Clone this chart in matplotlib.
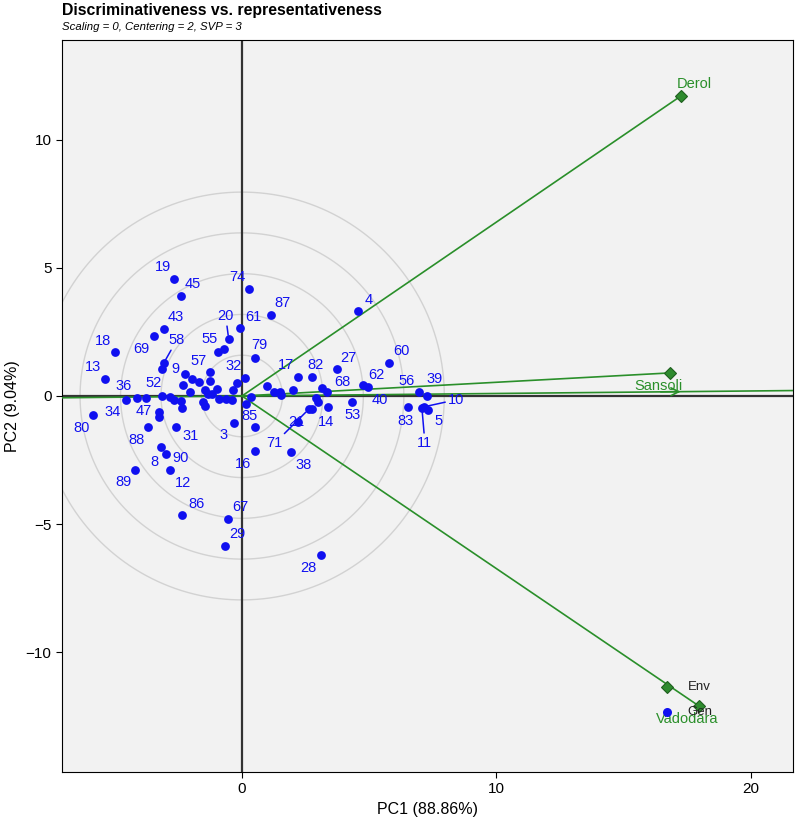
#!/usr/bin/env python3

from matplotlib import pyplot as plt
import numpy as np

# genotype scores (PC1, PC2); "" = point drawn without a label
gen_x = [-2.66, -2.40, 0.29, -3.08, -3.47, -5.00, -5.38, -3.08, -3.16, -0.93,
         -0.52, -0.08, 1.13, 0.52, -1.25, 0.13, -3.13, -4.13, -4.56, -5.84,
         -3.27, -3.68, -2.58, -0.30, 0.17, -3.19, -2.99, -4.19, -2.83, -2.36,
         -0.54, -0.68, 0.52, 4.56, 2.19, 2.76, 3.72, 3.34, 4.94, 4.77,
         4.31, 3.39, 2.21, 2.62, 1.91, 3.10, 5.78, 6.95, 7.26, 6.53,
         7.16, 7.30, 7.07,
         -0.71, -3.25, 3.13, 2.75, 2.91, 2.97, -1.95, -2.24, -1.68, -1.25,
         -2.32, -2.06, -1.44, -1.32, -1.17, -0.97, -1.53, -1.47, -0.89, -0.64,
         -0.40, -0.34, -0.18, 0.34, -2.41, -2.37, -3.78, -2.83, -2.67, 0.50,
         0.99, 1.26, 1.49, 1.52, 2.02]
gen_y = [4.56, 3.91, 4.18, 2.61, 2.33, 1.70, 0.67, 1.27, 1.06, 1.72,
         2.21, 2.64, 3.15, 1.48, 0.92, 0.71, -0.01, -0.09, -0.17, -0.74,
         -0.61, -1.21, -1.22, -1.06, -0.32, -1.98, -2.27, -2.88, -2.90, -4.65,
         -4.81, -5.84, -2.13, 3.31, 0.75, 0.73, 1.06, 0.17, 0.36, 0.43,
         -0.25, -0.43, -1.00, -0.52, -2.17, -6.19, 1.30, 0.14, 0.01, -0.44,
         -0.42, -0.55, -0.46,
         1.82, -0.81, 0.32, -0.52, -0.07, -0.22, 0.65, 0.85, 0.55, 0.60,
         0.42, 0.16, 0.22, 0.07, 0.07, 0.27, -0.23, -0.38, -0.12, -0.12,
         -0.16, 0.23, 0.50, -0.04, -0.19, -0.46, -0.09, -0.03, -0.16, -1.22,
         0.39, 0.14, 0.14, 0.04, 0.23]
gen_lab = ["19", "45", "74", "43", "69", "18", "13", "58", "9", "55",
           "20", "61", "87", "79", "57", "32", "52", "36", "34", "80",
           "47", "88", "31", "3", "85", "8", "90", "89", "12", "86",
           "67", "29", "16", "4", "17", "82", "27", "68", "62", "40",
           "53", "14", "21", "71", "38", "28", "60", "56", "39", "83",
           "10", "5", "11"] + [""] * 35

env_names = ["Derol", "Sansoli", "Vadodara"]
env_x = [17.25, 16.82, 17.96]
env_y = [11.70, 0.90, -12.09]

circle_radii = [1.59, 3.18, 4.77, 6.36, 7.95]

# label placement (pixels from the point)
label_offsets = {
    "19": (-11, 12), "45": (12, 12), "74": (-12, 12), "43": (12, 12),
    "69": (-12, -13), "18": (-12, 11), "13": (-12, 12), "58": (13, 23),
    "9": (14, 0), "55": (-9, 13), "20": (-3, 23), "61": (13, 11),
    "87": (12, 12), "79": (4, 13), "57": (-12, 11), "32": (-12, 12),
    "52": (-9, 13), "36": (-13, 12), "34": (-13, -12), "80": (-12, -13),
    "47": (-15, 1), "88": (-12, -13), "31": (14, -9), "3": (-11, -12),
    "85": (3, -12), "8": (-6, -15), "90": (15, -4), "89": (-12, -12),
    "12": (13, -13), "86": (15, 11), "67": (12, 12), "29": (13, 12),
    "16": (-12, -13), "4": (11, 11), "17": (-12, 12), "82": (3, 12),
    "27": (12, 11), "68": (15, 10), "62": (9, 12), "40": (16, -15),
    "53": (1, -13), "14": (-2, -15), "21": (-2, 0), "71": (-34, -34),
    "38": (13, -13), "28": (-12, -13), "60": (12, 12), "56": (-12, 11),
    "39": (8, 17), "83": (-3, -14), "10": (32, 7), "5": (11, -11),
    "11": (3, -35),
}
leader = {"58", "20", "71", "10", "11"}
env_offsets = {"Derol": (13, 12), "Sansoli": (-12, -13), "Vadodara": (-12, -13)}

GREEN = "#2a8f2a"
BLUE = "#1010f0"


def main():
    plt.rcParams["font.family"] = ["Liberation Sans", "DejaVu Sans"]
    fig = plt.figure(figsize=(7.96, 8.18), dpi=100)
    ax = fig.add_axes([62 / 796, 46 / 818, 731 / 796, 732 / 818])
    ax.set_facecolor("#f2f2f2")
    ax.set_xlim(-7.07, 21.65)
    ax.set_ylim(-14.66, 13.88)

    t = np.linspace(0, 2 * np.pi, 400)
    for r in circle_radii:
        ax.plot(r * np.cos(t), r * np.sin(t), color="#d2d2d2", lw=1, zorder=1)

    ax.axhline(0, color="#333333", lw=1.6, zorder=2)
    ax.axvline(0, color="#333333", lw=1.6, zorder=2)

    # average environment axis
    mx, my = np.mean(env_x), np.mean(env_y)
    s = 100
    ax.plot([-s * mx, s * mx], [-s * my, s * my], color=GREEN, lw=1.2, zorder=3)
    ax.annotate("", xy=(mx, my), xytext=(mx - 1.0, my - 1.0 * my / mx),
                arrowprops=dict(arrowstyle="->", color=GREEN, lw=1.2,
                                mutation_scale=14), zorder=3)

    for name, x, y in zip(env_names, env_x, env_y):
        ax.plot([0, x], [0, y], color=GREEN, lw=1.2, zorder=3)
        ax.plot(x, y, marker="D", ms=6, color="#2e8b2e", mec="#1f5f1f",
                mew=0.8, zorder=4)
        dx, dy = env_offsets[name]
        ax.annotate(name, (x, y), xytext=(dx, dy), textcoords="offset pixels",
                    ha="center", va="center", color=GREEN, fontsize=10.5,
                    zorder=5)

    ax.scatter(gen_x, gen_y, s=40, color=BLUE, zorder=5, linewidths=0)
    for x, y, lab in zip(gen_x, gen_y, gen_lab):
        if not lab:
            continue
        dx, dy = label_offsets[lab]
        props = None
        if lab in leader:
            props = dict(arrowstyle="-", color=BLUE, lw=1.1,
                         shrinkA=0, shrinkB=3)
        ax.annotate(lab, (x, y), xytext=(dx, dy), textcoords="offset pixels",
                    ha="center", va="center", color=BLUE, fontsize=10.5,
                    arrowprops=props, zorder=6)

    # legend
    ax.plot(0.828, 0.116, marker="D", ms=6, color="#2e8b2e", mec="#1f5f1f",
            mew=0.8, transform=ax.transAxes, zorder=7)
    ax.plot(0.828, 0.082, marker="o", ms=6.5, color=BLUE, mew=0,
            transform=ax.transAxes, zorder=7)
    ax.text(0.856, 0.116, "Env", transform=ax.transAxes, va="center",
            fontsize=9.5, color="#222222", zorder=8)
    ax.text(0.856, 0.082, "Gen", transform=ax.transAxes, va="center",
            fontsize=9.5, color="#222222", zorder=8)

    ax.set_xticks([0, 10, 20])
    ax.set_yticks([-10, -5, 0, 5, 10])
    ax.tick_params(labelsize=11, length=4)
    ax.set_xlabel("PC1 (88.86%)", fontsize=11.5)
    ax.set_ylabel("PC2 (9.04%)", fontsize=11.5)

    fig.text(62 / 796, 1 - 10 / 818, "Discriminativeness vs. representativeness",
             fontsize=11.4, weight="bold", va="center")
    fig.text(62 / 796, 1 - 27 / 818, "Scaling = 0, Centering = 2, SVP = 3",
             fontsize=8.2, style="italic", va="center")

    fig.savefig("out.png", dpi=100)


if __name__ == "__main__":
    main()
